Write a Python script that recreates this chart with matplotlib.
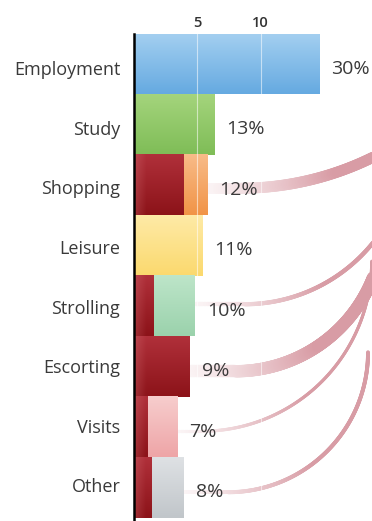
import numpy as np
import matplotlib
matplotlib.use("Agg")
import matplotlib.pyplot as plt
from matplotlib.collections import LineCollection
from matplotlib.colors import to_rgb

plt.rcParams['font.family'] = ['Open Sans', 'DejaVu Sans']

# data
categories = ['Employment', 'Study', 'Shopping', 'Leisure',
              'Strolling', 'Escorting', 'Visits', 'Other']
shares = [30, 13, 12, 11, 10, 9, 7, 8]
bar_len = [14.6, 6.3, 5.8, 5.4, 4.8, 4.4, 3.4, 3.9]
dark_len = [0, 0, 3.9, 0, 1.5, 4.4, 1.1, 1.4]
ticks = [5, 10]

# styles
bar_top = ['#a3cff0', '#a4d47c', '#f8bb88', '#feeaa6',
           '#bde5c9', '#b23338', '#f7cdcd', '#dee1e4']
bar_bot = ['#66aae1', '#7fbd57', '#f19447', '#fbd96e',
           '#9bd2ac', '#8f161c', '#eea5a7', '#c1c6ca']
dark_top, dark_bot = '#b0303a', '#8c1319'
flow_color = '#d89ca5'
# arc shape per row: start of the bend after bar end (px), y shift (px), radius (px)
arc_geom = {2: (33, 3, 300), 4: (50, -2, 165), 5: (46, 4.5, 148),
            6: (25, 4, 170), 7: (45, 4.5, 140)}

W, H = 372, 521
fig = plt.figure(figsize=(W / 100, H / 100), dpi=100)
ax_left, ax_top = 133.5, 34
ax = fig.add_axes([ax_left / W, 0, 1 - ax_left / W, (H - ax_top) / H])
xmax = (W - ax_left) / 12.7
ylo, yhi = -0.5, 7.55
sx = (W - ax_left) / xmax           # px per x unit
sy = (H - ax_top) / (yhi - ylo)     # px per row


def grad_rect(x0, x1, y, top, bot, light_left=False):
    t = np.linspace(0, 1, 40)[:, None]
    col = (1 - t) * np.array(to_rgb(top)) + t * np.array(to_rgb(bot))
    img = np.repeat(col[:, None, :], 30, axis=1)
    if light_left:
        s = np.linspace(0, 1, 30)
        f = np.clip((x1 - x0) * sx * s / 12, 0, 1)[None, :, None]
        img = img * f + (img * 0.75 + 0.25 * np.array(to_rgb('#e08a8e'))) * (1 - f)
    ax.imshow(img, extent=(x0, x1, y + 0.5, y - 0.5), aspect='auto',
              interpolation='bilinear', zorder=2)


for i in range(len(categories)):
    grad_rect(0, bar_len[i], i, bar_top[i], bar_bot[i])
    if dark_len[i] > 0:
        grad_rect(0, dark_len[i], i, dark_top, dark_bot, light_left=True)

for t in ticks:
    ax.axvline(t, color='white', alpha=0.55, lw=0.8, zorder=3)

# flow bands leaving the red parts, cut just past the right edge
pink = np.array(to_rgb(flow_color))
for r, (off, dy, R) in arc_geom.items():
    th = np.linspace(0, np.pi / 2, 300)
    u = np.concatenate([np.linspace(0, off, 20), off + R * np.sin(th)])
    v = np.concatenate([np.zeros(20), R * (1 - np.cos(th))])
    x = bar_len[r] + u / sx
    y = r + (dy - v) / sy
    keep = x <= xmax + 0.6
    x, y, u = x[keep], y[keep], u[keep]
    pts = np.column_stack([x, y])
    segs = np.stack([pts[:-1], pts[1:]], axis=1)
    f = np.clip(u[:-1] / 130, 0, 1) ** 1.2
    f = 0.1 + 0.9 * f
    cols = (1 - f)[:, None] * 1.0 + f[:, None] * pink
    lc = LineCollection(segs, colors=cols, linewidths=dark_len[r] * 2.8 * 0.72,
                        capstyle='round', zorder=1)
    ax.add_collection(lc)

for i, p in enumerate(shares):
    ax.annotate(f'{p}%', (bar_len[i], i + 0.075), xytext=(9, 0),
                textcoords='offset points', ha='left', va='center',
                fontsize=14, color='#3a3a3a', zorder=5)

ax.set_xlim(0, xmax)
ax.set_ylim(yhi, ylo)
ax.set_yticks(np.arange(len(categories)) * 0.985 + 0.066)
ax.set_yticklabels(categories, fontsize=13, color='#3a3a3a')
ax.tick_params(axis='y', length=0, pad=9.5)
ax.xaxis.tick_top()
ax.set_xticks(ticks)
ax.set_xticklabels([str(t) for t in ticks], fontsize=10.5,
                   fontweight='semibold', color='#333333')
ax.tick_params(axis='x', length=0, pad=3)
for s in ['top', 'right', 'bottom']:
    ax.spines[s].set_visible(False)
ax.spines['left'].set_linewidth(1.8)
ax.spines['left'].set_color('black')
ax.spines['left'].set_zorder(4)

fig.savefig('out.png', dpi=100)
